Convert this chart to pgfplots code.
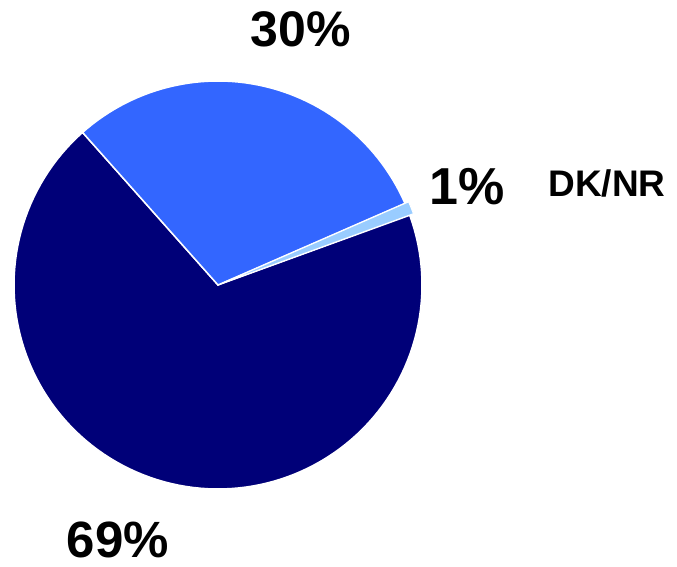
\documentclass[border=0pt]{standalone}
\usepackage{pgfplots}
\pgfplotsset{compat=1.18}
\usepackage{fontspec}
\setmainfont{Liberation Sans}
\definecolor{navy}{RGB}{0,0,120}
\definecolor{midblue}{RGB}{51,102,255}
\definecolor{lightblue}{RGB}{153,204,255}
% shares (percent)
\def\vDK{1}
\def\vYes{30}
\def\vNo{69}
\begin{document}
\begin{tikzpicture}
\pgfmathsetmacro\aStart{20}
\pgfmathsetmacro\aA{\aStart+3.6*\vDK}
\pgfmathsetmacro\aB{\aA+3.6*\vYes}
\pgfmathsetmacro\aC{\aB+3.6*\vNo}
\def\R{204}
\def\cx{218}
\def\cy{282}
\begin{axis}[
  width=677pt, height=567pt, scale only axis,
  xmin=0, xmax=677, ymin=0, ymax=567,
  hide axis, clip=false,
]
\path (axis cs:0,0) rectangle (axis cs:677,567);
% 69%
\addplot[fill=navy, draw=white, line width=1.5pt, domain=\aB:\aC, samples=120, variable=\t]
  ({\cx+\R*cos(\t)}, {\cy+\R*sin(\t)}) -- (axis cs:\cx,\cy) -- cycle;
% 30%
\addplot[fill=midblue, draw=white, line width=1.5pt, domain=\aA:\aB, samples=60, variable=\t]
  ({\cx+\R*cos(\t)}, {\cy+\R*sin(\t)}) -- (axis cs:\cx,\cy) -- cycle;
% 1% (exploded)
\addplot[fill=lightblue, draw=white, line width=1pt, domain=\aStart:\aA, samples=6, variable=\t]
  ({\cx+3.7+\R*cos(\t)}, {\cy+1.5+\R*sin(\t)}) -- (axis cs:\cx+3.7,\cy+1.5) -- cycle;
\node[inner sep=0, font=\bfseries\fontsize{50}{50}\selectfont] at (axis cs:300.5,537.5) {30\%};
\node[inner sep=0, font=\bfseries\fontsize{52}{52}\selectfont] at (axis cs:467.5,380.5) {1\%};
\node[inner sep=0, font=\bfseries\fontsize{51}{51}\selectfont] at (axis cs:118,27) {69\%};
\node[inner sep=0, font=\bfseries\fontsize{37}{37}\selectfont] at (axis cs:607,384) {DK/NR};
\end{axis}
\end{tikzpicture}
\end{document}
